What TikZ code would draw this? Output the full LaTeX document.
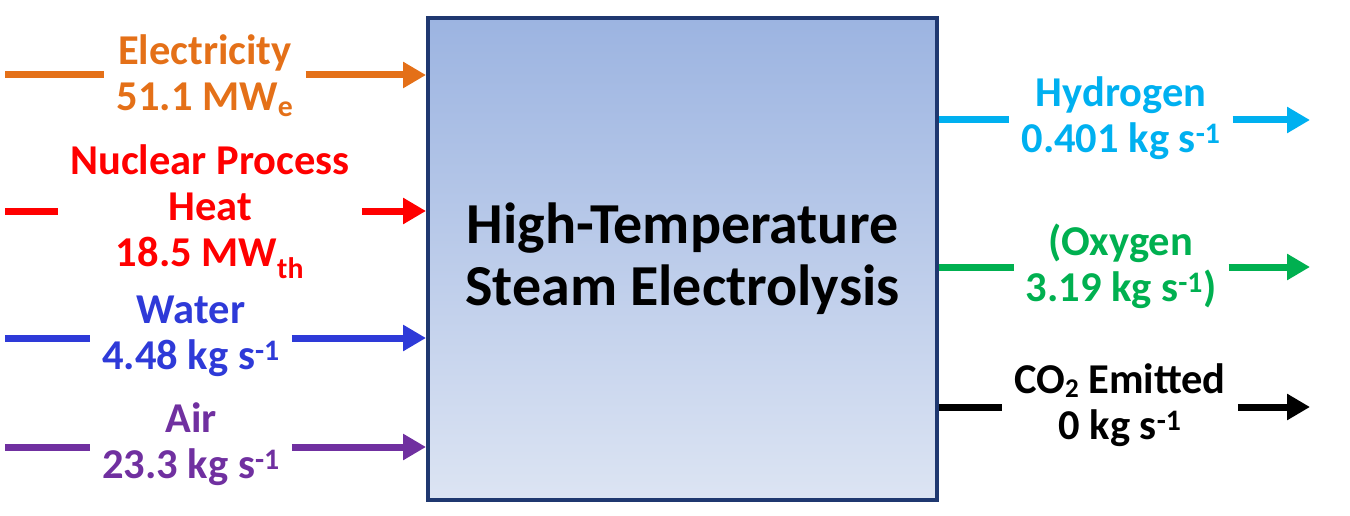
\documentclass[tikz,border=0pt]{standalone}
\usepackage{fontspec}
\setmainfont{Carlito}
\usetikzlibrary{arrows.meta}
\definecolor{elecorange}{RGB}{228,112,24}
\definecolor{heatred}{RGB}{255,0,0}
\definecolor{waterblue}{RGB}{46,58,216}
\definecolor{airpurple}{RGB}{112,48,160}
\definecolor{hydroblue}{RGB}{0,176,240}
\definecolor{oxygreen}{RGB}{0,176,80}
\definecolor{boxnavy}{RGB}{31,56,112}
\definecolor{boxtop}{RGB}{156,180,225}
\definecolor{boxbottom}{RGB}{220,228,243}
\newcommand{\lowsub}[1]{\raisebox{-0.1em}{\fontsize{27}{27}\selectfont #1}}
\tikzset{
  flow/.style={line width=7pt},
  flowtip/.style={flow,-{Triangle[length=23pt,width=25pt]}},
  lbl/.style={font=\fontsize{42.5}{46}\selectfont\bfseries,align=center,inner xsep=12pt,inner ysep=0pt}
}
\begin{document}
\begin{tikzpicture}[x=1pt,y=-1pt]
\useasboundingbox (0,0) rectangle (1350,516);
\node[draw=boxnavy,line width=4pt,top color=boxtop,bottom color=boxbottom,
  minimum width=509pt,minimum height=482pt,
  font=\fontsize{58}{62}\selectfont\bfseries,align=center] (hte) at (682.5,259)
  {High-Temperature\\Steam Electrolysis};
\coordinate (elecin) at (5,75);
\coordinate (heatin) at (5,211);
\coordinate (waterin) at (5,338);
\coordinate (airin) at (5,447);
\coordinate (hydroout) at (1310,120);
\coordinate (oxyout) at (1310,267);
\coordinate (co2out) at (1310,407);

\node[lbl,text=elecorange] (elec) at (205,76) {Electricity\\51.1 MW\textsubscript{e}};
\node[lbl,text=heatred] (heat) at (210,212) {Nuclear Process\\Heat\\18.5 MW\textsubscript{th}};
\node[lbl,text=waterblue] (water) at (191,336) {Water\\4.48 kg s\textsuperscript{-1}};
\node[lbl,text=airpurple] (air) at (191,444) {Air\\23.3 kg s\textsuperscript{-1}};
\node[lbl,text=hydroblue] (hydro) at (1121,118) {Hydrogen\\0.401 kg s\textsuperscript{-1}};
\node[lbl,text=oxygreen] (oxy) at (1121,266) {(Oxygen\\3.19 kg s\textsuperscript{-1})};
\node[lbl,text=black] (co2) at (1120,405) {CO\lowsub{2} Emitted\\0 kg s\textsuperscript{-1}};

\draw[flow,elecorange] (elecin) -- (elecin-|elec.west);% inputs
\draw[flowtip,elecorange] (elecin-|elec.east) -- (elecin-|hte.west);
\draw[flow,heatred] (heatin) -- (heatin-|heat.west);
\draw[flowtip,heatred] (heatin-|heat.east) -- (heatin-|hte.west);
\draw[flow,waterblue] (waterin) -- (waterin-|water.west);
\draw[flowtip,waterblue] (waterin-|water.east) -- (waterin-|hte.west);
\draw[flow,airpurple] (airin) -- (airin-|air.west);
\draw[flowtip,airpurple] (airin-|air.east) -- (airin-|hte.west);
\draw[flow,hydroblue] (hydroout-|hte.east) -- (hydroout-|hydro.west);% outputs
\draw[flowtip,hydroblue] (hydroout-|hydro.east) -- (hydroout);
\draw[flow,oxygreen] (oxyout-|hte.east) -- (oxyout-|oxy.west);
\draw[flowtip,oxygreen] (oxyout-|oxy.east) -- (oxyout);
\draw[flow,black] (co2out-|hte.east) -- (co2out-|co2.west);
\draw[flowtip,black] (co2out-|co2.east) -- (co2out);
\end{tikzpicture}
\end{document}
